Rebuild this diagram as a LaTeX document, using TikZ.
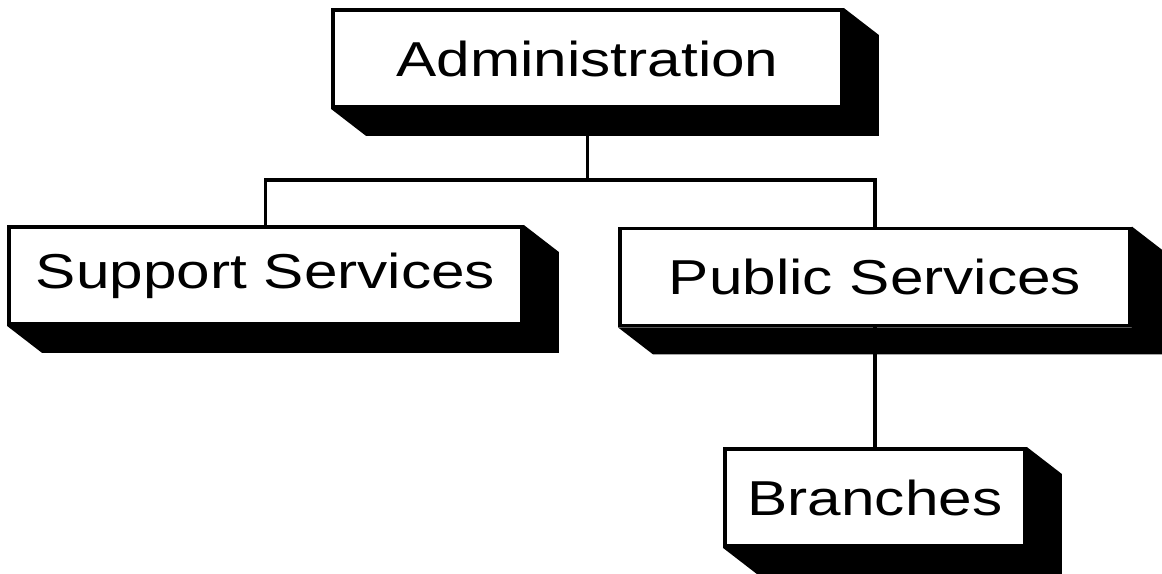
\documentclass[tikz,border=0pt]{standalone}
\usepackage{fontspec}
\newfontfamily\orgfont[FakeStretch=1.23]{Liberation Sans}
\usetikzlibrary{calc}
\tikzset{
	orgbox/.style={draw, line width=2.2pt, fill=white, inner sep=0pt, minimum width=#1, minimum height=1.94cm, font=\orgfont\fontsize{27.9}{30}\selectfont},
	link/.style={line width=2.2pt}
}
\newcommand{\extrude}[1]{\fill (#1.north east) -- ++(0.7,-0.54) -- ($(#1.south east)+(0.7,-0.54)$) -- ($(#1.south west)+(0.7,-0.54)$) -- (#1.south west) -- (#1.south east) -- cycle;}
\begin{document}
\begin{tikzpicture}
		\useasboundingbox (0,0) rectangle (23.24,11.46);
		
		\node[orgbox=10.18cm] (admin) at (11.75,10.29) {Administration};
		\node[orgbox=10.26cm] (support) at (5.31,5.95) {Support Services};
		\node[orgbox=10.2cm] (public) at (17.5,5.92) {Public Services};
		\node[orgbox=6cm] (branches) at (17.5,1.51) {Branches};
		
		%--- sombras
		\extrude{admin}
		\extrude{support}
		\extrude{public}
		\extrude{branches}
		
		%--- ligações
		\coordinate (bus) at (11.75,7.86);
		\draw[link] (admin.south) -- (bus);
		\draw[link] (support.north) |- (bus) -| (public.north);
		\draw[link] (public.south) -- (branches.north);
	\end{tikzpicture}
\end{document}
